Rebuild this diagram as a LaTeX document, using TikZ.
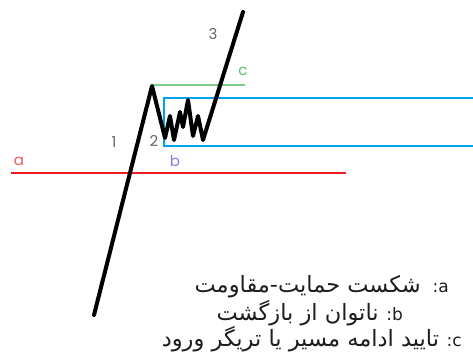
\documentclass[tikz,border=0pt]{standalone}
\usepackage{fontspec}
\setmainfont{DejaVu Sans}
\newfontfamily\arabicfont[Script=Arabic]{DejaVu Sans}
\newfontfamily\labfont{Poppins}
\TeXXeTstate=1
\definecolor{pred}{HTML}{ED1C24}
\definecolor{pblue}{HTML}{00A2E8}
\definecolor{pgreen}{HTML}{7FCC8C}
\definecolor{lred}{HTML}{EE5A5A}
\definecolor{lblue}{HTML}{7F7FE0}
\definecolor{lgreen}{HTML}{5CBF6E}
\definecolor{lgray}{HTML}{6A665E}
\definecolor{txt}{HTML}{1E1E1E}
\begin{document}
\begin{tikzpicture}[x=1pt,y=-1pt,
  lab/.style={font=\labfont\fontsize{15}{15}\selectfont,inner sep=0pt},
  legend/.style={font=\fontsize{17}{18}\selectfont,text=txt,inner sep=0pt},
  price/.style={line width=4pt,line cap=round,line join=round,black}]
\useasboundingbox (0,0) rectangle (473,355);
\newcommand\fa[1]{{\arabicfont\fontsize{22.5}{24}\selectfont\beginR #1\endR}}
% lines
\draw[pred,line width=2pt] (11,173) -- (346,173);
\draw[pgreen,line width=1.4pt] (152,85) -- (245,85);
\draw[pblue,line width=2pt] (480,98) -- (164,98) -- (164,146) -- (480,146);
% price path
\coordinate (p0) at (94,315);
\coordinate (p1) at (152,86);
\coordinate (p2) at (165,138);
\coordinate (p3) at (170,116);
\coordinate (p4) at (174,140);
\coordinate (p5) at (180,112);
\coordinate (p6) at (183,127);
\coordinate (p7) at (188,100);
\coordinate (p8) at (193,136);
\coordinate (p9) at (198,116);
\coordinate (p10) at (203,140);
\coordinate (p11) at (243,12);
\draw[price] (p0) -- (p1) -- (p2) -- (p3) -- (p4) -- (p5) -- (p6) -- (p7) -- (p8) -- (p9) -- (p10) -- (p11);
% labels
\node[lab,text=lgray] (n1) at (114,142) {1};
\node[lab,text=lgray] (n2) at (154,141) {2};
\node[lab,text=lgray] (n3) at (213,34) {3};
\node[lab,text=lred] (la) at (19,161) {a};
\node[lab,text=lblue] (lb) at (175,161) {b};
\node[lab,text=lgreen] (lc) at (243,71) {c};
% legend
\node[legend,anchor=east] (t1) at (449,287) {\fa{شکست حمایت-مقاومت}\hspace{0.7em}:a};
\node[legend,anchor=east] (t2) at (403,313) {\fa{ناتوان از بازگشت}\hspace{0.45em}:b};
\node[legend,anchor=east] (t3) at (462,339) {\fa{تایید ادامه مسیر یا تریگر ورود}\hspace{0.45em}:c};
\end{tikzpicture}
\end{document}
